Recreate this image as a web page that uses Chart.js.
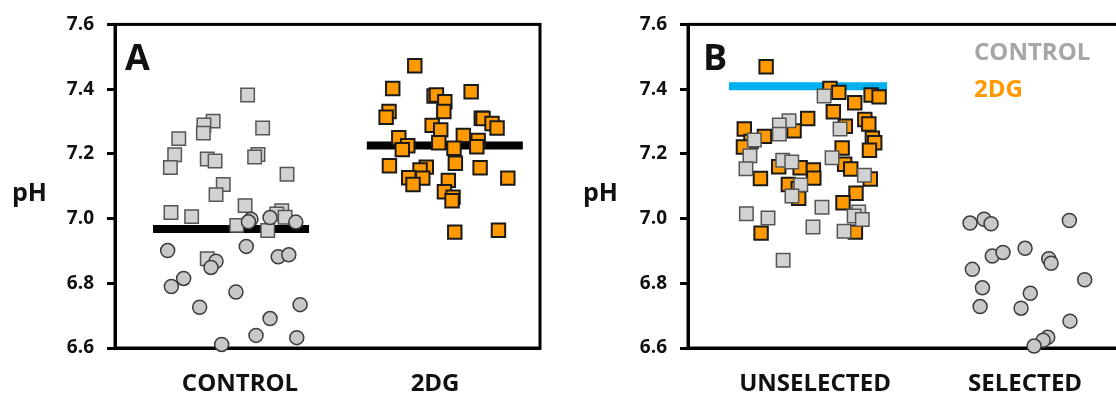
<!DOCTYPE html>
<html>
<head>
<meta charset="utf-8">
<script src="https://cdn.jsdelivr.net/npm/chart.js@4/dist/chart.umd.min.js"></script>
<style>
  html, body { margin: 0; padding: 0; background: #fff; overflow: hidden; }
  #wrap { position: relative; width: 1116px; height: 395px; overflow: hidden; }
  #panelA { position: absolute; left: 0; top: 0; }
  #panelB { position: absolute; left: 573px; top: 0; }
</style>
</head>
<body>
<div id="wrap">
  <canvas id="panelA" width="560" height="395"></canvas>
  <canvas id="panelB" width="580" height="395"></canvas>
</div>
<script>
// ---- data ----
const catsA = ['CONTROL', '2DG'];
const catsB = ['UNSELECTED', 'SELECTED'];
const yTicks = [6.6, 6.8, 7.0, 7.2, 7.4, 7.6];

// panel A, control squares (jitter around category, pH)
const ctrlSqJit = [0.039, -0.138, -0.185, -0.188, 0.116, -0.314, -0.335, -0.357, -0.168, -0.128, 0.092, 0.075,
  0.241, -0.086, -0.123, 0.026, -0.354, -0.248, 0.214, 0.188, 0.231, -0.017, 0.142, -0.168];
const ctrlSqPH = [7.382, 7.301, 7.289, 7.264, 7.280, 7.247, 7.197, 7.158, 7.184, 7.178, 7.198, 7.190,
  7.137, 7.105, 7.074, 7.040, 7.019, 7.006, 7.024, 7.014, 7.004, 6.979, 6.963, 6.876];

// panel A, control circles
const ctrlCirJit = [0.056, 0.043, 0.154, 0.286, -0.371, 0.032, -0.123, -0.149, 0.196, 0.250, -0.289, -0.352,
  -0.021, -0.207, 0.308, 0.154, 0.082, 0.291, -0.094];
const ctrlCirPH = [6.998, 6.990, 7.003, 6.989, 6.901, 6.914, 6.868, 6.849, 6.882, 6.888, 6.815, 6.790,
  6.773, 6.726, 6.734, 6.691, 6.639, 6.632, 6.611];

// panel A, 2DG squares
const dgJit = [-0.104, -0.217, 0.185, -0.005, 0.007, 0.050, 0.045, -0.236, -0.251, 0.237, 0.246, 0.292, 0.318,
  -0.015, 0.029, -0.186, -0.140, -0.168, 0.019, 0.145, 0.097, 0.221, 0.214, -0.234, 0.104, 0.231, -0.045,
  -0.077, -0.135, -0.063, -0.113, 0.373, 0.068, 0.048, 0.092, 0.087, 0.101, 0.325];
const dgPH = [7.472, 7.402, 7.392, 7.379, 7.382, 7.361, 7.331, 7.331, 7.313, 7.310, 7.309, 7.294, 7.280,
  7.288, 7.274, 7.250, 7.225, 7.213, 7.234, 7.257, 7.217, 7.241, 7.222, 7.163, 7.171, 7.157, 7.159,
  7.150, 7.126, 7.125, 7.105, 7.125, 7.118, 7.083, 7.066, 7.055, 6.958, 6.964];

// mean bars in panel A: pH and x span
const meanA = [6.968, 7.226];
const meanSpanA = [[-0.446, 0.354], [0.650, 1.450]];

// panel B, unselected 2DG (orange) squares
const unselDgJit = [-0.233, 0.071, 0.113, 0.189, 0.267, 0.305, 0.087, -0.035, 0.237, 0.256, 0.144, -0.337,
  -0.100, -0.241, 0.273, 0.284, -0.305, -0.341, 0.259, 0.129, 0.141, 0.170, -0.173, -0.071, -0.008,
  -0.006, -0.260, 0.263, -0.127, -0.080, -0.078, 0.195, 0.133, 0.192, -0.257];
const unselDgPH = [7.469, 7.402, 7.390, 7.358, 7.382, 7.376, 7.330, 7.309, 7.306, 7.292, 7.285, 7.277,
  7.271, 7.254, 7.248, 7.234, 7.238, 7.221, 7.211, 7.218, 7.168, 7.153, 7.160, 7.157, 7.150,
  7.125, 7.124, 7.122, 7.105, 7.092, 7.063, 7.078, 7.049, 6.958, 6.955];

// panel B, unselected control (gray) squares
const unselCtrlJit = [0.043, -0.124, -0.170, -0.170, 0.119, -0.289, -0.310, 0.081, -0.154, -0.111, -0.329,
  0.235, -0.068, -0.110, 0.033, -0.327, -0.224, 0.208, 0.186, 0.225, -0.010, 0.138, -0.152];
const unselCtrlPH = [7.379, 7.302, 7.289, 7.261, 7.277, 7.243, 7.194, 7.188, 7.180, 7.175, 7.154,
  7.134, 7.104, 7.070, 7.035, 7.015, 7.002, 7.020, 7.008, 6.997, 6.974, 6.961, 6.871];

// panel B, selected (gray circles)
const selJit = [-0.262, -0.195, -0.162, 0.211, -0.156, -0.105, 0.000, 0.113, 0.124, -0.251, 0.284, -0.203,
  0.025, -0.214, -0.019, 0.214, 0.108, 0.086, 0.043];
const selPH = [6.986, 6.998, 6.984, 6.994, 6.884, 6.895, 6.908, 6.876, 6.862, 6.843, 6.811, 6.786,
  6.769, 6.728, 6.723, 6.683, 6.633, 6.624, 6.606];

// threshold bar in panel B
const threshB = 7.409;
const threshSpanB = [-0.410, 0.343];

// ---- helpers ----
const FONT = '"Open Sans", "DejaVu Sans", sans-serif';
const GRAY_FILL = '#d2d2d2';
const GRAY_EDGE = '#555555';
const ORANGE = '#ff9900';

function pts(cat, jit, ph) {
  return ph.map((v, i) => ({ x: cat + jit[i], y: v }));
}

function squares(data, fill, edge, bw) {
  return { data: data, pointStyle: 'rect', pointRadius: 9.5, pointHoverRadius: 9.5,
    backgroundColor: fill, borderColor: edge, borderWidth: bw, clip: false };
}
function circles(data) {
  return { data: data, pointStyle: 'circle', pointRadius: 7, pointHoverRadius: 7,
    backgroundColor: '#c8c8c8', borderColor: '#3c3c3c', borderWidth: 1.5, clip: false };
}
function bar(span, v, color, order) {
  return { data: [{ x: span[0], y: v }, { x: span[1], y: v }], showLine: true, borderColor: color,
    borderWidth: 8, pointRadius: 0, borderCapStyle: 'butt', order: order, clip: false };
}

// box + free text (pH, panel letter, legend)
const panelDecor = {
  id: 'panelDecor',
  beforeDatasetsDraw(chart, args, opts) {
    const a = chart.chartArea;
    const ctx = chart.ctx;
    ctx.save();
    ctx.strokeStyle = '#000';
    ctx.lineWidth = 3;
    ctx.strokeRect(a.left, a.top, a.right - a.left, a.bottom - a.top);
    ctx.restore();
  },
  afterDraw(chart, args, opts) {
    const a = chart.chartArea;
    const ctx = chart.ctx;
    ctx.save();
    ctx.textBaseline = 'alphabetic';
    ctx.textAlign = 'left';
    ctx.fillStyle = '#111';
    ctx.font = 'bold 25px ' + FONT;
    ctx.fillText('pH', opts.phX, 201);
    ctx.font = 'bold 36px ' + FONT;
    ctx.fillText(opts.letter, a.left + opts.letterDx, 70);
    (opts.legend || []).forEach(l => {
      ctx.font = 'bold 24px ' + FONT;
      ctx.fillStyle = l.color;
      ctx.fillText(l.text, l.x, l.y);
    });
    ctx.restore();
  }
};

function makeOptions(cats, xmin, xmax, decor) {
  return {
    responsive: false,
    animation: false,
    events: [],
    layout: { padding: { top: 21, right: 20, left: 0, bottom: 0 } },
    plugins: { legend: { display: false }, tooltip: { enabled: false }, panelDecor: decor },
    scales: {
      x: {
        type: 'linear', min: xmin, max: xmax,
        afterBuildTicks: s => { s.ticks = cats.map((c, i) => ({ value: i })); },
        afterFit: s => { s.height = 47; },
        ticks: { callback: v => cats[v], color: '#111', padding: 14,
          font: { family: FONT, size: 24, weight: 'bold' }, maxRotation: 0, autoSkip: false },
        grid: { display: false },
        border: { display: true, color: '#000', width: 3 }
      },
      y: {
        type: 'linear', min: 6.6, max: 7.6,
        afterBuildTicks: s => { s.ticks = yTicks.map(v => ({ value: v })); },
        afterFit: s => { s.width = 115; },
        ticks: { callback: v => v.toFixed(1), color: '#111', padding: 13,
          font: { family: FONT, size: 19, weight: 'bold' } },
        grid: { display: true, drawOnChartArea: false, drawTicks: true, tickLength: 8,
          color: '#000', lineWidth: 3 },
        border: { display: true, color: '#000', width: 3 }
      }
    }
  };
}

// ---- panel A ----
new Chart(document.getElementById('panelA').getContext('2d'), {
  type: 'scatter',
  data: {
    datasets: [
      Object.assign(squares(pts(1, dgJit, dgPH), ORANGE, '#1a1a1a', 2), { order: 1 }),
      Object.assign(circles(pts(0, ctrlCirJit, ctrlCirPH)), { order: 2 }),
      Object.assign(squares(pts(0, ctrlSqJit, ctrlSqPH), GRAY_FILL, GRAY_EDGE, 1.5), { order: 3 }),
      bar(meanSpanA[0], meanA[0], '#000', 9),
      bar(meanSpanA[1], meanA[1], '#000', 9)
    ]
  },
  options: makeOptions(catsA, -0.641, 1.538, { phX: 12, letter: 'A', letterDx: 10 }),
  plugins: [panelDecor]
});

// ---- panel B ----
new Chart(document.getElementById('panelB').getContext('2d'), {
  type: 'scatter',
  data: {
    datasets: [
      Object.assign(circles(pts(1, selJit, selPH)), { order: 1 }),
      Object.assign(squares(pts(0, unselCtrlJit, unselCtrlPH), GRAY_FILL, GRAY_EDGE, 1.5), { order: 2 }),
      Object.assign(squares(pts(0, unselDgJit, unselDgPH), ORANGE, '#1a1a1a', 2), { order: 3 }),
      bar(threshSpanB, threshB, '#00b0f0', 9)
    ]
  },
  options: makeOptions(catsB, -0.605, 1.514, {
    phX: 10, letter: 'B', letterDx: 15,
    legend: [
      { text: 'CONTROL', color: '#a6a6a6', x: 401, y: 60 },
      { text: '2DG', color: ORANGE, x: 401, y: 97 }
    ]
  }),
  plugins: [panelDecor]
});
</script>
</body>
</html>
